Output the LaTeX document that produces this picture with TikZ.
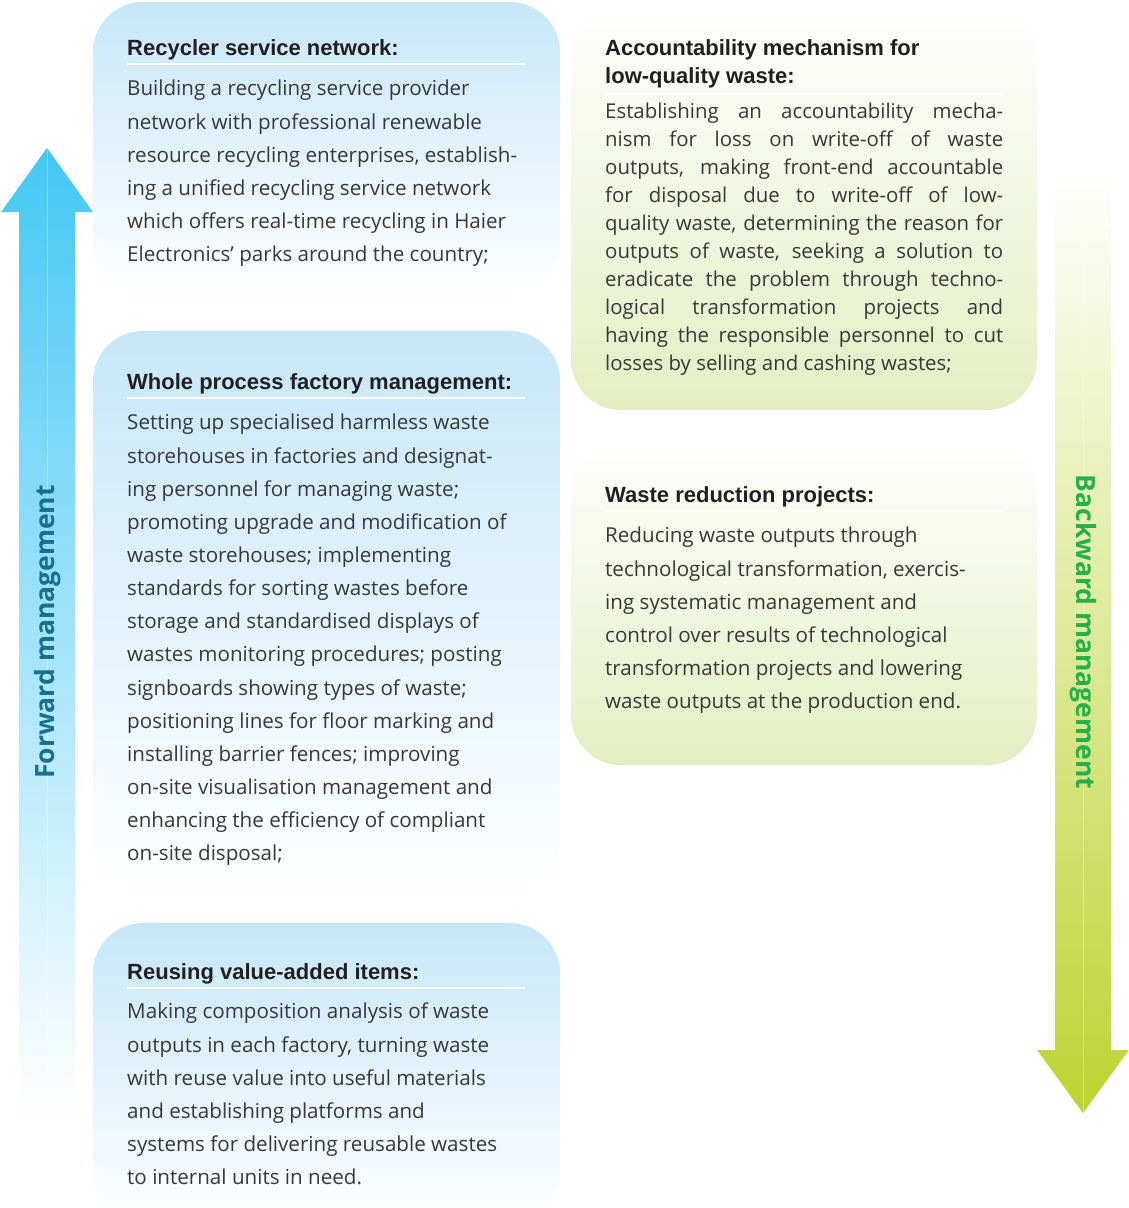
\documentclass[tikz,border=0pt]{standalone}
\usepackage{fontspec}
\setmainfont{Open Sans}
\newfontfamily\headfont{Liberation Sans}
\usetikzlibrary{positioning}
\definecolor{boxblue}{HTML}{C6E7F9}
\definecolor{boxgreen}{HTML}{E4EEC2}
\definecolor{arrowblue}{HTML}{44C7F4}
\definecolor{arrowgreen}{HTML}{BCD432}
\definecolor{fwdcol}{HTML}{17708E}
\definecolor{bwdcol}{HTML}{26B04B}
\definecolor{headcol}{HTML}{231F20}
\definecolor{bodycol}{HTML}{383838}
\begin{document}
\begin{tikzpicture}[x=1pt,y=-1pt,
  bluebox/.style={rectangle,rounded corners=50pt,inner sep=0pt,minimum width=467pt,top color=boxblue,bottom color=white},
  greenbox/.style={rectangle,rounded corners=50pt,inner sep=0pt,minimum width=466pt,top color=white,bottom color=boxgreen},
  headtext/.style={anchor=north west,inner sep=0pt,align=left,text=headcol,font=\headfont\bfseries\fontsize{22}{28}\selectfont},
  bodytext/.style={anchor=north west,inner sep=0pt,align=left,text=bodycol,font=\fontsize{20.6}{33.15}\selectfont},
  rule/.style={white,line width=1.5pt},
  sidetext/.style={inner sep=0pt,font=\bfseries\fontsize{26.5}{30}\selectfont}]
\useasboundingbox (0,0) rectangle (1129,1208);
\shade[top color=arrowblue,middle color=arrowblue!55!white,bottom color=white] (19,1115) -- (19,212) -- (1,212) -- (47,148) -- (93,212) -- (75,212) -- (75,1115) -- cycle;
\shade[top color=white,middle color=arrowgreen!50!white,bottom color=arrowgreen] (1055,165) -- (1055,1050) -- (1037,1050) -- (1083,1113) -- (1129,1050) -- (1111,1050) -- (1111,165) -- cycle;
\draw[white,opacity=0.35,line width=0.8pt] (47,150) -- (47,1115); \draw[white,opacity=0.35,line width=0.8pt] (1083,165) -- (1083,1111);
\node[sidetext,text=fwdcol,rotate=90] (fwd) at (48,632) {Forward management};
\node[sidetext,text=bwdcol,rotate=-90] (bwd) at (1083,632) {Backward management};
\node[bluebox,minimum height=293pt] (b1) at (326.5,148.5) {};
\node[bluebox,minimum height=559pt] (b2) at (326.5,610.5) {};
\node[bluebox,minimum height=300pt] (b3) at (326.5,1073) {};
\node[greenbox,minimum height=405pt] (b4) at (804,207.5) {};
\node[greenbox,minimum height=325pt] (b5) at (804,602.5) {};
\node[headtext] (h1) at (127,39) {Recycler service network:};
\node[bodytext] (t1) at (127,80) {Building a recycling service provider\\
network with professional renewable\\
resource recycling enterprises, establish-\\
ing a unified recycling service network\\
which offers real-time recycling in Haier\\
Electronics’ parks around the country;};
\node[headtext] (h2) at (127,373) {Whole process factory management:};
\node[bodytext] (t2) at (127,414) {Setting up specialised harmless waste\\
storehouses in factories and designat-\\
ing personnel for managing waste;\\
promoting upgrade and modification of\\
waste storehouses; implementing\\
standards for sorting wastes before\\
storage and standardised displays of\\
wastes monitoring procedures; posting\\
signboards showing types of waste;\\
positioning lines for floor marking and\\
installing barrier fences; improving\\
on-site visualisation management and\\
enhancing the efficiency of compliant\\
on-site disposal;};
\node[headtext] (h3) at (127,963) {Reusing value-added items:};
\node[bodytext] (t3) at (127,1003) {Making composition analysis of waste\\
outputs in each factory, turning waste\\
with reuse value into useful materials\\
and establishing platforms and\\
systems for delivering reusable wastes\\
to internal units in need.};
\node[headtext] (h4) at (605,39) {Accountability mechanism for\\low-quality waste:};
\node[bodytext,font=\fontsize{20.4}{28}\selectfont] (t4) at (605,103) {\makebox[398pt][s]{Establishing an accountability mecha-}\\
\makebox[398pt][s]{nism for loss on write-off of waste}\\
\makebox[398pt][s]{outputs, making front-end accountable}\\
\makebox[398pt][s]{for disposal due to write-off of low-}\\
\makebox[398pt][s]{quality waste, determining the reason for}\\
\makebox[398pt][s]{outputs of waste, seeking a solution to}\\
\makebox[398pt][s]{eradicate the problem through techno-}\\
\makebox[398pt][s]{logical transformation projects and}\\
\makebox[398pt][s]{having the responsible personnel to cut}\\
losses by selling and cashing wastes;};
\node[headtext] (h5) at (605,486) {Waste reduction projects:};
\node[bodytext] (t5) at (605,527) {Reducing waste outputs through\\
technological transformation, exercis-\\
ing systematic management and\\
control over results of technological\\
transformation projects and lowering\\
waste outputs at the production end.};
\draw[rule] (127,64) -- (525,64); \draw[rule] (127,398) -- (525,398); \draw[rule] (127,988) -- (525,988);
\draw[rule] (605,94) -- (1003,94); \draw[rule] (605,511) -- (1003,511);
\end{tikzpicture}
\end{document}
